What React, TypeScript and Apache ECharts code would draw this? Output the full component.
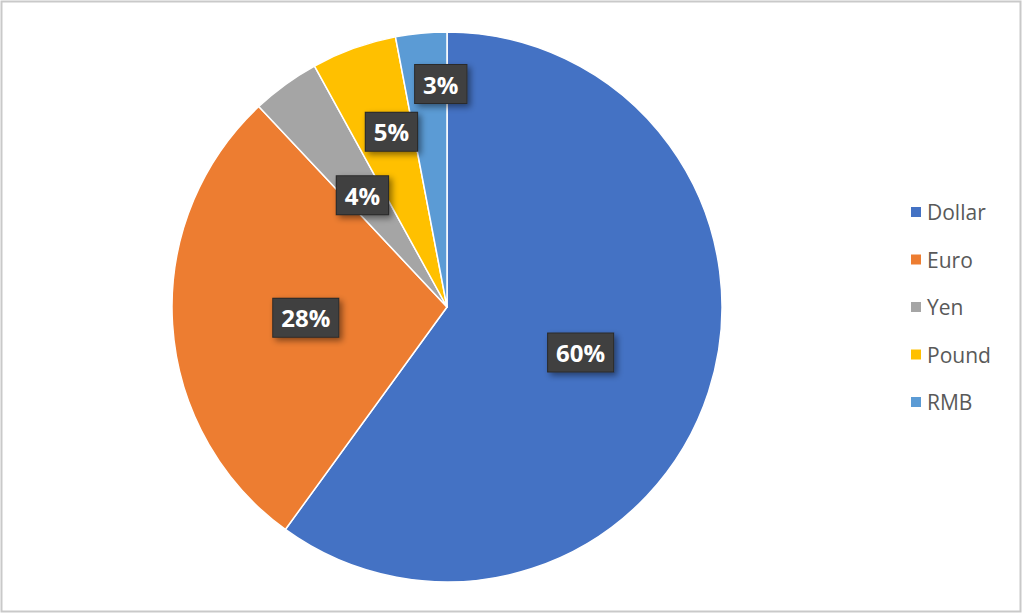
import React, { useEffect, useRef } from "react";
import * as echarts from "echarts";

const categories = ["Dollar", "Euro", "Yen", "Pound", "RMB"];
const shares = [60, 28, 4, 5, 3];
const colors = ["#4472C4", "#ED7D31", "#A5A5A5", "#FFC000", "#5B9BD5"];
// label nudges (Excel best-fit placement)
const labelOffsets: [number, number][] = [[0, 2], [-1, 2], [-2, 2], [-8, -43], [7, -83]];

export default function App() {
  const ref = useRef<HTMLDivElement>(null);
  useEffect(() => {
    if (!ref.current) return;
    const chart = echarts.init(ref.current, undefined, { renderer: "svg" });
    chart.setOption({
      animation: false,
      backgroundColor: "#ffffff",
      graphic: [
        {
          type: "rect",
          shape: { x: 1.5, y: 1.5, width: 1019, height: 610 },
          style: { fill: "none", stroke: "#c9c9c9", lineWidth: 2 },
          silent: true,
        },
      ],
      legend: {
        orient: "vertical",
        left: 904,
        top: 196,
        itemWidth: 12,
        itemHeight: 12,
        itemGap: 25.5,
        icon: "rect",
        textStyle: { fontFamily: "Open Sans", fontSize: 21, color: "#595959", lineHeight: 22, padding: [0, 0, 0, 0] },
        data: categories,
      },
      series: [
        {
          type: "pie",
          center: [447, 307],
          radius: [0, 275],
          startAngle: 90,
          clockwise: true,
          avoidLabelOverlap: false,
          itemStyle: { borderColor: "#ffffff", borderWidth: 1.5 },
          label: {
            show: true,
            position: "inside",
            formatter: "{d}%",
            fontFamily: "Open Sans",
            fontWeight: "bold",
            fontSize: 24,
            color: "#ffffff",
            backgroundColor: "#404040",
            borderColor: "#2a2a2a",
            borderWidth: 1,
            padding: [8, 8, 6, 8],
            shadowColor: "rgba(0,0,0,0.45)",
            shadowBlur: 6,
            shadowOffsetX: 3,
            shadowOffsetY: 3,
          },
          labelLine: { show: false },
          emphasis: { disabled: true },
          data: categories.map((name, i) => ({
            name,
            value: shares[i],
            itemStyle: { color: colors[i] },
            label: { offset: labelOffsets[i] },
          })),
        },
      ],
    });
    return () => chart.dispose();
  }, []);
  return (
    <div
      ref={ref}
      style={{ position: "fixed", left: 0, top: 0, width: 1024, height: 615 }}
    />
  );
}
